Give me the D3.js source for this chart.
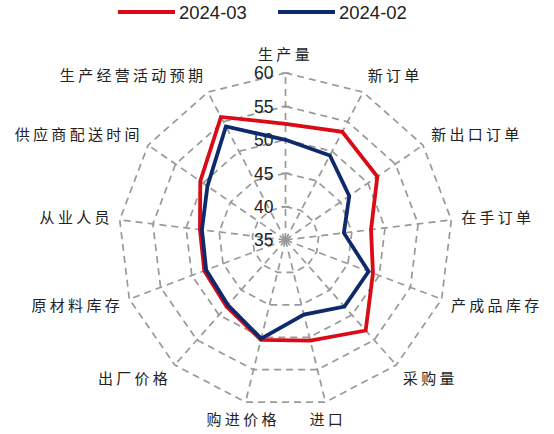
<!DOCTYPE html>
<html>
<head>
<meta charset="utf-8">
<script src="https://cdn.jsdelivr.net/npm/d3@7/dist/d3.min.js"></script>
<style>
  body { margin: 0; background: #fff; }
  svg text { font-family: "Liberation Sans", Arial, sans-serif; }
  .cat { font-family: "Noto Sans CJK SC", sans-serif; font-size: 15px; fill: #222; letter-spacing: 3.3px; }
</style>
</head>
<body>
<div id="chart"></div>
<script>
// PMI sub-indices, clockwise from the top
const categories = ['生产量', '新订单', '新出口订单', '在手订单', '产成品库存', '采购量', '进口',
    '购进价格', '出厂价格', '原材料库存', '从业人员', '供应商配送时间', '生产经营活动预期'];
const values2403 = [52.4, 53.3, 51.7, 47.9, 49.0, 53.1, 50.5, 50.4, 48.3, 48.0, 47.9, 50.5, 55.8];
const values2402 = [50.0, 49.3, 46.6, 43.8, 48.3, 48.3, 46.5, 50.2, 48.0, 47.7, 47.6, 49.2, 54.2];
const radialTicks = [35, 40, 45, 50, 55, 60];
const seriesNames = ['2024-03', '2024-02'];

var width = 554, height = 434;
var cx = 285.5, cy = 240;
var colors = ['#da0a16', '#0c2a6c'];
var series = [values2403, values2402];

var svg = d3.select('#chart').append('svg')
    .attr('width', width)
    .attr('height', height);

var r = d3.scaleLinear().domain([35, 60]).range([0, 167]);
var angle = d3.scalePoint().domain(d3.range(categories.length + 1)).range([0, 2 * Math.PI]);

var g = svg.append('g').attr('transform', 'translate(' + cx + ',' + cy + ')');

// grid rings
var ring = d3.lineRadial()
    .angle(function (d, i) { return angle(i); })
    .radius(function (d) { return r(d); })
    .curve(d3.curveLinearClosed);

radialTicks.slice(1).forEach(function (t) {
    g.append('path')
        .attr('d', ring(categories.map(function () { return t; })))
        .attr('fill', 'none')
        .attr('stroke', '#999')
        .attr('stroke-width', 1.7)
        .attr('stroke-dasharray', '7,5');
});

// spokes
categories.forEach(function (c, i) {
    var a = angle(i);
    g.append('line')
        .attr('x1', 0).attr('y1', 0)
        .attr('x2', r(60) * Math.sin(a))
        .attr('y2', -r(60) * Math.cos(a))
        .attr('stroke', '#999')
        .attr('stroke-width', 1.7)
        .attr('stroke-dasharray', '7,5');
});

// value axis ticks and labels
radialTicks.forEach(function (t) {
    g.append('line')
        .attr('x1', -4).attr('x2', 4)
        .attr('y1', -r(t)).attr('y2', -r(t))
        .attr('stroke', '#999')
        .attr('stroke-width', 1.4);
    g.append('text')
        .attr('x', -12)
        .attr('y', -r(t))
        .attr('dy', '0.36em')
        .attr('text-anchor', 'end')
        .style('font-size', '17.5px')
        .style('fill', '#222')
        .text(t);
});

// category labels
categories.forEach(function (c, i) {
    var a = angle(i);
    var s = Math.sin(a), co = Math.cos(a);
    var px = (r(60) + 10) * s;
    var py = -(r(60) + 10) * co - co * 8;
    var anchor = s > 0.3 ? 'start' : (s < -0.3 ? 'end' : 'middle');
    g.append('text')
        .attr('class', 'cat')
        .attr('x', anchor === 'end' ? px + 3 : px)
        .attr('y', py)
        .attr('dy', '0.35em')
        .attr('text-anchor', anchor)
        .text(c);
});

// series
var line = d3.lineRadial()
    .angle(function (d, i) { return angle(i); })
    .radius(function (d) { return r(d); })
    .curve(d3.curveLinearClosed);

series.forEach(function (vals, k) {
    g.append('path')
        .attr('d', line(vals))
        .attr('fill', 'none')
        .attr('stroke', colors[k])
        .attr('stroke-width', 3.8)
        .attr('stroke-linejoin', 'miter');
});

// legend
var legend = svg.append('g');
var legendX = [118, 278];
seriesNames.forEach(function (name, k) {
    legend.append('line')
        .attr('x1', legendX[k]).attr('x2', legendX[k] + 57)
        .attr('y1', 12).attr('y2', 12)
        .attr('stroke', colors[k])
        .attr('stroke-width', 4);
    legend.append('text')
        .attr('x', legendX[k] + 61)
        .attr('y', 12)
        .attr('dy', '0.36em')
        .style('font-size', '18.5px')
        .style('fill', '#222')
        .text(name);
});
</script>
</body>
</html>
